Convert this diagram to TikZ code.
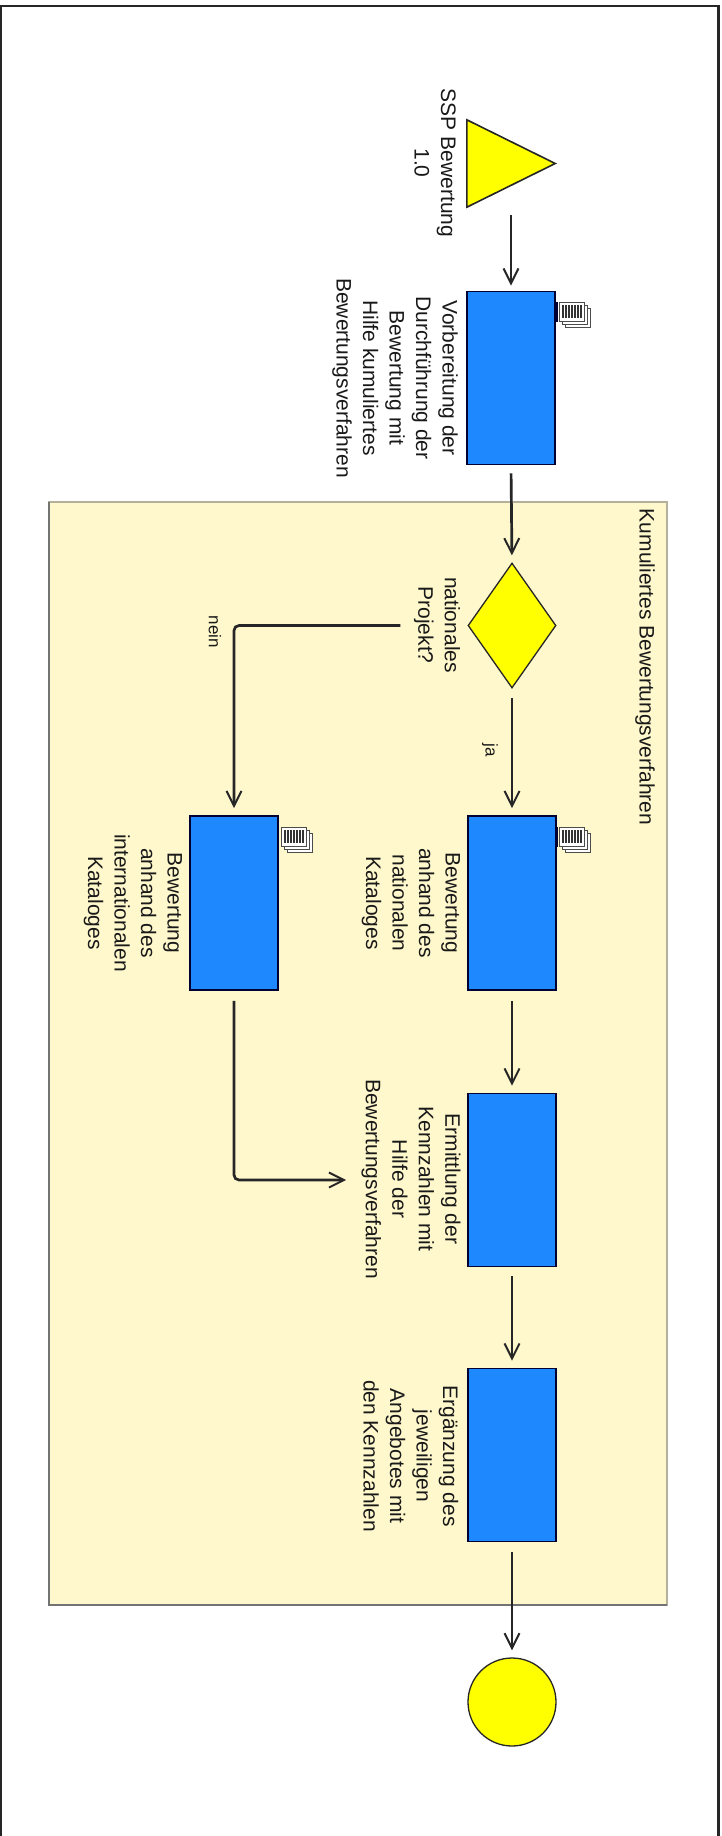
\documentclass[tikz,border=0pt]{standalone}
\usepackage{fontspec}
\setmainfont{Liberation Sans}
\usetikzlibrary{arrows.meta,shapes.geometric,calc}
\definecolor{panelfill}{HTML}{FFF8CC}
\definecolor{panelline}{HTML}{B4B09A}
\definecolor{blueproc}{HTML}{1E88FF}
\definecolor{ylw}{HTML}{FFFF00}
\definecolor{ink}{HTML}{262626}
\tikzset{
  x=1pt,y=-1pt,
  proc/.style={draw=black!80!blue,line width=1.6pt,fill=blueproc,rectangle,inner sep=0pt},
  ylwshape/.style={draw=black!85,line width=1.3pt,fill=ylw,inner sep=0pt},
  conn/.style={ink,line width=2.7pt,-{Straight Barb[length=15pt,width=15pt,line width=2pt]}},
  lbl/.style={rotate=-90,font=\fontsize{21}{26.5}\selectfont,align=center,text=black!90,inner sep=0pt},
  smalllbl/.style={lbl,font=\fontsize{17}{20}\selectfont},
}
\newcommand{\docicon}[2]{%
  \foreach \d in {2,1,0}{
    \draw[black!70,fill=white,line width=.9pt] ($(#1,#2)+(\d*3,\d*3)$) rectangle ++(25,19);
  }
  \foreach \e in {4,7,10,13,16,19,22}{
    \draw[black!80,line width=1.2pt] ($(#1,#2)+(\e,3)$) -- ++(0,13);
  }
}
\begin{document}
\begin{tikzpicture}
\useasboundingbox (0,0) rectangle (722,1836);
\fill[white] (0,0) rectangle (722,1836);
\draw[black!85,line width=2.4pt] (1,1836) -- (1,6) -- (718.5,6) -- (718.5,1836);
% panel
\fill[panelfill] (49,502) rectangle (667,1605);
\draw[panelline,line width=1.2pt] (49,1605) -- (667,1605) -- (667,502) -- (49,502) -- cycle;
\draw[black!55,line width=2pt] (49,502) -- (49,1605) -- (667,1605);
\node[lbl] (paneltitle) at (645,667) {Kumuliertes Bewertungsverfahren};
% shapes
\node[minimum width=88pt,minimum height=87pt,inner sep=0pt] (start) at (511,163.5) {};
\draw[ylwshape,line width=1.6pt,line join=miter] (start.north west) -- (start.east) -- (start.south west) -- cycle;
\node[proc,minimum width=88pt,minimum height=173pt] (a) at (511,378) {};
\node[diamond,ylwshape,aspect=0.704,minimum width=88pt,minimum height=125pt] (dec) at (512,625.5) {};
\node[proc,minimum width=88pt,minimum height=174pt] (b) at (512,903) {};
\node[proc,minimum width=88pt,minimum height=174pt] (c) at (234,903) {};
\node[proc,minimum width=88pt,minimum height=173pt] (d) at (512,1180) {};
\node[proc,minimum width=88pt,minimum height=173pt] (e) at (512,1455) {};
\node[circle,ylwshape,minimum size=88pt] (end) at (512,1702) {};
% icons
\docicon{559}{302}
\draw[black!80!blue,line width=2pt] (557,302) -- (557,322);
\docicon{559}{827}
\draw[black!80!blue,line width=2pt] (557,827) -- (557,847);
\docicon{281}{827}
% labels
\node[lbl] (l0) at (435,163) {SSP Bewertung\\1.0};
\node[lbl] (l1) at (395,378) {Vorbereitung der\\Durchführung der\\Bewertung mit\\Hilfe kumuliertes\\Bewertungsverfahren};
\node[lbl] (l2) at (437,625) {nationales\\Projekt?};
\node[lbl] (l3) at (411,903) {Bewertung\\anhand des\\nationalen\\Kataloges};
\node[lbl] (l4) at (133,903) {Bewertung\\anhand des\\internationalen\\Kataloges};
\node[lbl] (l5) at (411,1179) {Ermittlung der\\Kennzahlen mit\\Hilfe der\\Bewertungsverfahren};
\node[lbl] (l6) at (411,1456) {Ergänzung des\\jeweiligen\\Angebotes mit\\den Kennzahlen};
\node[smalllbl] (ja) at (490,750) {ja};
\node[smalllbl] (nein) at (215,632) {nein};
% connectors
\draw[conn,shorten <=8pt,shorten >=5pt] (start.south) -- (a.north);
\draw[conn,shorten <=8pt,shorten >=7pt] (a.south) -- (dec.north);
\draw[conn,shorten <=9pt,shorten >=7pt] (dec.south) -- (b.north);
\draw[conn,shorten <=10pt,shorten >=7pt] (b.south) -- (d.north);
\draw[conn,shorten <=9pt,shorten >=7pt] (d.south) -- (e.north);
\draw[conn,shorten <=10pt,shorten >=7pt] (e.south) -- (end.north);
\draw[conn,rounded corners=5pt,shorten <=67pt,shorten >=7pt] (dec.west) -- (c.north |- dec.west) -- (c.north);
\draw[conn,rounded corners=5pt,shorten <=10pt,shorten >=121pt] (c.south) -- (c.south |- d.west) -- (d.west);
\end{tikzpicture}
\end{document}
